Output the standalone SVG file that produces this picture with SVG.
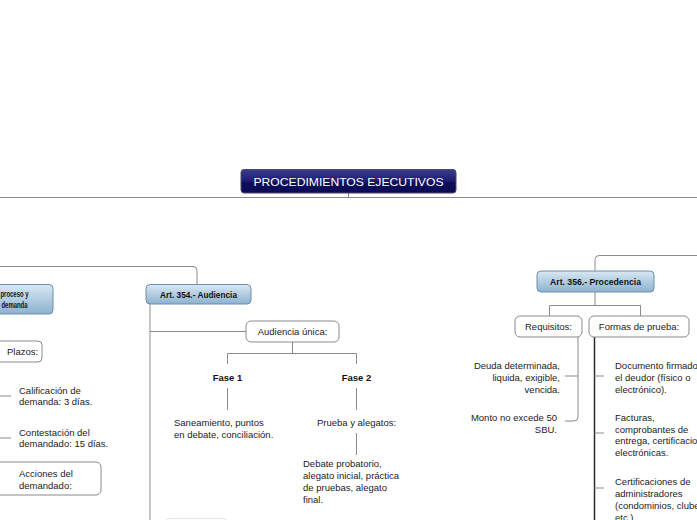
<svg xmlns="http://www.w3.org/2000/svg" width="697" height="520" viewBox="0 0 697 520">
<defs>
<linearGradient id="gTitle" x1="0" y1="0" x2="0" y2="1">
<stop offset="0" stop-color="#3a3a8e"/>
<stop offset="0.5" stop-color="#1c1c70"/>
<stop offset="0.55" stop-color="#0e0e5c"/>
<stop offset="1" stop-color="#0a0a55"/>
</linearGradient>
<linearGradient id="gHead" x1="0" y1="0" x2="0" y2="1">
<stop offset="0" stop-color="#d9e8f3"/>
<stop offset="1" stop-color="#8cb2d0"/>
</linearGradient>
</defs>
<style>
.t{font-family:"Liberation Sans",Arial,sans-serif;font-size:9.5px;fill:#222}
.h{font-family:"Liberation Sans",Arial,sans-serif;font-size:9px;font-weight:bold;fill:#111}
.b{font-family:"Liberation Sans",Arial,sans-serif;font-size:9.5px;font-weight:bold;fill:#111}
.c{text-anchor:middle}
.r{text-anchor:end}
.head{fill:url(#gHead);stroke:#6f8ea8;stroke-width:1}
.wbox{fill:#fff;stroke:#8a8a8a;stroke-width:1}
.ln{fill:none;stroke:#8a8a8a;stroke-width:1}
</style>
<rect width="697" height="520" fill="#fff"/>
<g id="connectors">
<path class="ln" d="M0 197.5H697" stroke="#6a6a6a"/>
<path class="ln" d="M348.5 193V197.5"/>
<path class="ln" d="M0 266.5H193a4 4 0 0 1 4 4V284"/>
<path class="ln" d="M697 255.5H599a4 4 0 0 0 -4 4V271"/>
<path class="ln" d="M150 304V520" stroke="#9a9a9a" stroke-width="2"/>
<path class="ln" d="M150 331.5H246"/>
<path class="ln" d="M292.5 342V353.5"/>
<path class="ln" d="M227.5 364V353.5H356.5V364"/>
<path class="ln" d="M227.5 388V410"/>
<path class="ln" d="M356.5 388V410"/>
<path class="ln" d="M356.5 433V455"/>
<path class="ln" d="M595 292V305.5"/>
<path class="ln" d="M549.5 316V305.5H640.5V316"/>
<path class="ln" d="M578 337V417a4 4 0 0 1 -4 4H565"/>
<path class="ln" d="M565 376H578"/>
<path d="M594.5 337V520" fill="none" stroke="#2a2a2a" stroke-width="1.5"/>
<path class="ln" d="M594.5 376H604M594.5 433H604M594.5 488H604"/>
<path class="ln" d="M0 396H11M0 438H11"/>
</g>
<g id="title">
<rect x="241" y="169.5" width="215" height="23.5" rx="3" fill="url(#gTitle)" stroke="#4a4a6a"/>
<text x="348.5" y="186" class="c" font-family="'Liberation Sans',Arial,sans-serif" font-size="11" fill="#fff" textLength="190" lengthAdjust="spacingAndGlyphs">PROCEDIMIENTOS EJECUTIVOS</text>
</g>
<g id="n-proceso">
<rect class="head" x="-25" y="284.5" width="78" height="29.5" rx="4"/>
<text class="h" x="0.5" y="296.5" font-size="9.5" textLength="28" lengthAdjust="spacingAndGlyphs">proceso y</text>
<text class="h" x="1.5" y="307.5" font-size="9.5" textLength="26" lengthAdjust="spacingAndGlyphs">demanda</text>
</g>
<g id="n-plazos">
<rect class="wbox" x="-10" y="341" width="52" height="21" rx="4"/>
<text class="t" x="7" y="355">Plazos:</text>
</g>
<g id="n-calificacion">
<text class="t" x="19" y="393.5">Calificación de</text>
<text class="t" x="19" y="404.5">demanda: 3 días.</text>
</g>
<g id="n-contestacion">
<text class="t" x="19" y="435.5">Contestación del</text>
<text class="t" x="19" y="446.5">demandado: 15 días.</text>
</g>
<g id="n-acciones">
<rect class="wbox" x="-10" y="462" width="111" height="33" rx="5"/>
<text class="t" x="19" y="476.5">Acciones del</text>
<text class="t" x="19" y="488.5">demandado:</text>
</g>
<g id="n-art354">
<rect class="head" x="146" y="284.5" width="105" height="19.5" rx="4"/>
<text class="h c" x="198.5" y="297.5" textLength="77" lengthAdjust="spacingAndGlyphs">Art. 354.- Audiencia</text>
</g>
<g id="n-audiencia">
<rect class="wbox" x="246" y="321" width="93" height="21" rx="5"/>
<text class="t c" x="292.5" y="335">Audiencia única:</text>
</g>
<g id="n-fase1">
<text class="b c" x="227.5" y="381">Fase 1</text>
</g>
<g id="n-fase2">
<text class="b c" x="356.5" y="381">Fase 2</text>
</g>
<g id="n-saneamiento">
<text class="t" x="174" y="426">Saneamiento, puntos</text>
<text class="t" x="174" y="437.5">en debate, conciliación.</text>
</g>
<g id="n-prueba">
<text class="t c" x="356.5" y="426">Prueba y alegatos:</text>
</g>
<g id="n-debate">
<text class="t" x="303" y="466.5">Debate probatorio,</text>
<text class="t" x="303" y="478.5">alegato inicial, práctica</text>
<text class="t" x="303" y="490.5">de pruebas, alegato</text>
<text class="t" x="303" y="502.5">final.</text>
</g>
<g id="n-partial">
<rect x="166" y="518.5" width="61" height="20" rx="4" fill="#fff" stroke="#e2e2e2"/>
</g>
<g id="n-art356">
<rect class="head" x="537" y="271" width="117" height="21" rx="4"/>
<text class="h c" x="595.5" y="285" textLength="91" lengthAdjust="spacingAndGlyphs">Art. 356.- Procedencia</text>
</g>
<g id="n-requisitos">
<rect class="wbox" x="515" y="316" width="67" height="21" rx="5"/>
<text class="t c" x="548.5" y="330">Requisitos:</text>
</g>
<g id="n-formas">
<rect class="wbox" x="589" y="316" width="100" height="21" rx="5"/>
<text class="t c" x="639" y="330">Formas de prueba:</text>
</g>
<g id="n-deuda">
<text class="t r" x="560" y="368.5">Deuda determinada,</text>
<text class="t r" x="560" y="380.5">liquida, exigible,</text>
<text class="t r" x="560" y="392.5">vencida.</text>
</g>
<g id="n-monto">
<text class="t r" x="557" y="420.5">Monto no excede 50</text>
<text class="t r" x="557" y="432.5">SBU.</text>
</g>
<g id="n-documento">
<text class="t" x="615" y="368.5">Documento firmado por</text>
<text class="t" x="615" y="380.5">el deudor (físico o</text>
<text class="t" x="615" y="392.5">electrónico).</text>
</g>
<g id="n-facturas">
<text class="t" x="615" y="420.5">Facturas,</text>
<text class="t" x="615" y="432.5">comprobantes de</text>
<text class="t" x="615" y="444">entrega, certificaciones</text>
<text class="t" x="615" y="455.5">electrónicas.</text>
</g>
<g id="n-certificaciones">
<text class="t" x="615" y="484.5">Certificaciones de</text>
<text class="t" x="615" y="496.5">administradores</text>
<text class="t" x="615" y="508.5">(condominios, clubes,</text>
<text class="t" x="615" y="520.5">etc.).</text>
</g>
</svg>
